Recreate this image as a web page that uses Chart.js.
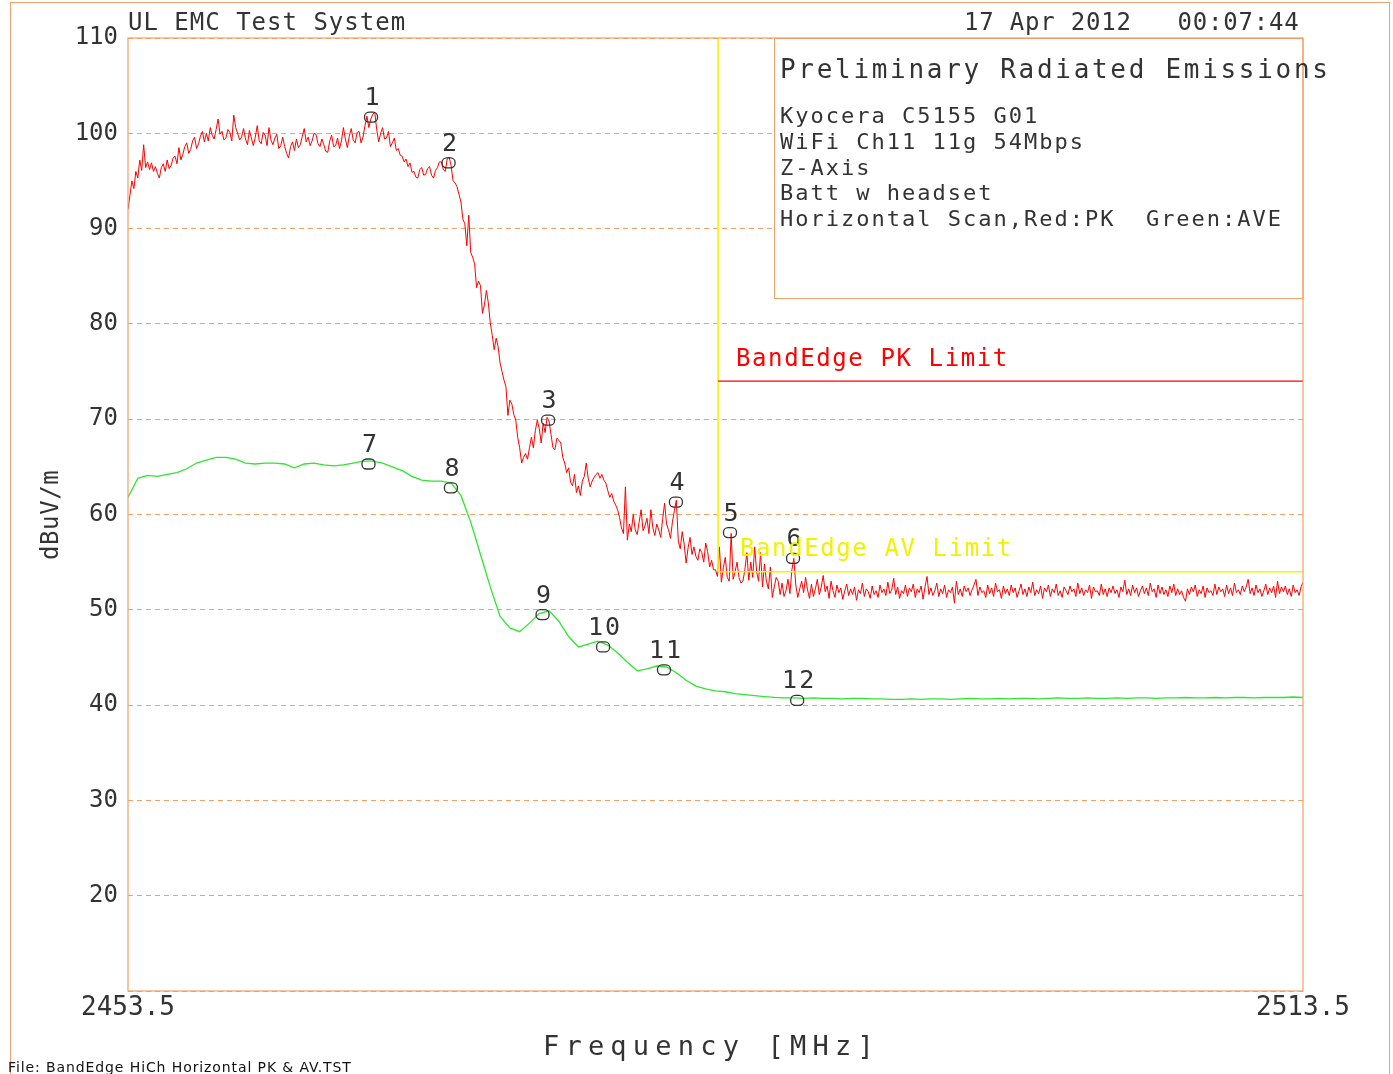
<!DOCTYPE html>
<html>
<head>
<meta charset="utf-8">
<title>BandEdge HiCh Horizontal PK &amp; AV</title>
<script src="https://cdn.jsdelivr.net/npm/chart.js@4/dist/chart.umd.min.js"></script>
<style>
  html, body { margin: 0; padding: 0; background: #fff; }
  canvas { display: block; }
</style>
</head>
<body>
<canvas id="plot" width="1393" height="1074"></canvas>
<script>
// sweep span in MHz
var sweepStart = 2453.5;
var sweepStop = 2513.5;

// peak trace (red), one reading every 0.1 MHz, one row per MHz
var pkLevels = [
  92.0, 93.5, 95.0, 94.2, 96.0, 95.3, 97.2, 96.1, 98.8, 96.4,
  97.0, 96.2, 96.9, 96.0, 96.5, 95.8, 95.3, 96.4, 96.8, 96.0,
  97.2, 96.3, 96.6, 97.4, 97.6, 96.8, 98.5, 97.2, 97.8, 98.6,
  99.0, 97.9, 98.3, 99.2, 99.6, 98.4, 98.9, 99.7, 100.2, 99.1,
  100.0, 99.2, 100.6, 99.8, 99.4, 100.4, 101.5, 99.9, 100.2, 99.3,
  99.5, 100.4, 100.1, 99.2, 101.9, 100.6, 100.0, 99.3, 99.6, 100.5,
  99.4, 98.8, 100.3, 99.5, 98.7, 99.6, 100.8, 99.2, 98.9, 100.1,
  99.8, 98.7, 100.6, 99.3, 98.8, 99.5, 99.9, 98.4, 98.7, 99.6,
  98.6, 97.9, 97.4, 98.6, 99.1, 98.2, 99.4, 98.5, 98.8, 99.7,
  100.5, 99.1, 99.6, 98.7, 99.2, 100.0, 99.9, 98.9, 98.6, 99.4,
  98.8, 98.1, 98.0, 99.2, 99.8, 98.6, 98.7, 99.5, 98.4, 99.2,
  100.6, 99.4, 98.5, 99.7, 100.5, 99.3, 99.0, 100.1, 100.2, 99.0,
  99.6, 100.8, 101.8, 100.6, 101.5, 102.0, 102.2, 100.4, 99.1, 100.0,
  100.6, 99.4, 99.5, 100.2, 98.6, 99.0, 99.5, 98.2, 98.4, 97.7,
  97.6, 97.0, 97.3, 96.5, 96.9, 95.9, 96.0, 95.4, 95.3, 96.2,
  96.4, 95.6, 95.7, 96.3, 96.5, 95.6, 95.3, 96.1, 96.4, 97.0,
  97.0, 96.2, 96.0, 97.3, 97.5, 96.6, 95.0, 94.8, 94.4, 93.6,
  92.8, 91.0, 90.5, 88.2, 91.4, 87.5, 87.0, 86.3, 83.8, 84.5,
  84.0, 81.1, 82.0, 83.5, 82.2, 80.1, 78.8, 77.3, 78.5, 77.6,
  75.9, 75.0, 74.1, 73.4, 70.4, 72.0, 71.6, 70.5, 69.9, 68.1,
  67.0, 65.4, 66.0, 66.4, 65.8, 67.0, 68.1, 67.0, 68.8, 69.9,
  69.0, 67.5, 69.6, 68.6, 70.2, 69.8, 68.4, 67.0, 66.8, 68.0,
  67.8, 67.5, 66.0, 65.4, 64.4, 64.9, 63.4, 63.0, 64.2, 62.3,
  63.0, 62.0, 63.5, 64.0, 65.4, 63.8, 62.9, 63.5, 63.9, 64.2,
  64.4, 63.8, 64.2, 63.6, 63.3, 62.5, 61.8, 62.2, 61.4, 61.0,
  60.5, 59.7, 58.6, 58.0, 62.9, 57.3, 59.0, 58.2, 60.0, 58.4,
  57.9, 59.2, 60.5, 58.3, 58.8, 59.6, 58.0, 60.5, 58.6, 57.8,
  59.0, 58.4, 57.6, 59.5, 61.2, 59.0, 58.4, 57.5, 59.2, 60.4,
  61.5, 57.2, 56.4, 58.2, 56.9, 54.9, 56.5, 57.6, 55.8, 56.6,
  55.6, 55.2, 56.4, 56.0, 55.0, 57.0, 56.1, 54.5, 55.2, 54.2,
  54.2, 53.5, 56.6, 52.9, 54.4, 55.5, 53.4, 53.0, 58.0, 53.2,
  54.0, 55.0, 53.4, 52.8, 53.0, 54.2, 56.0, 53.1, 55.0, 53.4,
  56.6, 54.0, 53.0, 56.0, 52.4, 54.8, 53.0, 52.2, 54.5, 51.3,
  52.4, 53.4, 53.0, 51.6, 52.8, 51.4, 52.0, 53.2, 51.7, 54.2,
  55.4, 52.6, 51.3, 52.2, 53.0, 51.8, 53.4, 52.1, 51.2, 52.7,
  51.4, 52.2, 53.2, 51.6, 52.4, 53.6, 51.9, 52.5, 51.2, 53.0,
  52.0, 51.3, 52.6, 51.8, 52.3, 51.1, 52.0, 52.7, 51.5, 52.2,
  51.6, 52.4, 51.0, 52.1, 51.7, 52.8, 51.4, 52.2, 51.9, 51.2,
  52.5, 51.6, 52.0, 51.3, 52.6, 51.8, 52.2, 51.5, 52.9, 51.7,
  52.1, 53.3, 51.6, 52.4, 51.2, 52.0, 51.7, 52.6, 51.4, 52.3,
  51.9, 52.7, 51.3, 52.2, 51.8, 52.5, 51.1, 52.4, 53.5, 51.6,
  52.3, 51.5, 52.0, 52.8, 51.4, 52.2, 51.7, 52.6, 51.3, 52.1,
  51.8, 52.4, 50.7, 53.0, 51.6, 52.2, 51.4, 52.5, 51.9, 52.3,
  51.5, 52.1, 52.6, 53.2, 51.5, 52.4, 51.8, 52.0, 51.3, 52.6,
  51.7, 52.3, 51.4, 52.8, 51.9, 52.1, 51.2, 52.5, 51.7, 52.2,
  51.5, 52.6, 51.8, 52.3, 51.3, 52.0, 52.7, 51.6, 52.2, 51.4,
  52.4, 51.8, 52.9, 51.5, 52.1, 51.7, 52.5, 51.2, 52.3, 51.9,
  52.6, 51.4, 52.2, 51.8, 52.7, 51.5, 52.0, 51.3, 52.4, 52.0,
  51.6, 52.5, 51.9, 52.2, 51.4, 52.8, 51.7, 52.3, 51.5, 52.1,
  51.8, 52.6, 51.2, 52.4, 51.9, 52.0, 51.5, 52.7, 51.6, 52.2,
  51.4, 52.3, 51.8, 52.5, 51.7, 52.1, 51.3, 52.4, 51.9, 53.1,
  51.6, 52.2, 51.5, 52.6, 51.8, 52.3, 51.4, 52.0, 52.5, 51.7,
  52.3, 51.5, 52.8, 51.9, 52.2, 51.3, 52.6, 51.7, 52.4, 51.6,
  52.1, 51.4, 52.5, 51.8, 52.7, 51.5, 52.2, 51.6, 52.0, 51.3,
  50.9, 52.2, 51.6, 52.4, 51.9, 52.6, 51.4, 52.1, 51.7, 52.5,
  51.3, 52.3, 51.8, 52.0, 51.5, 52.7, 51.6, 52.4, 51.9, 52.2,
  51.4, 52.6, 51.7, 52.3, 51.5, 52.8, 51.8, 52.1, 51.6, 52.5,
  51.9, 52.4, 53.2, 51.7, 52.3, 51.5, 52.6, 51.8, 52.2, 51.4,
  52.0, 52.7, 51.6, 52.3, 51.8, 52.5, 51.3, 53.0, 51.7, 52.4,
  51.9, 52.5, 51.6, 52.2, 51.4, 52.6, 51.8, 52.1, 51.5, 52.4,
  52.9
];

// average trace (green), one reading every 0.5 MHz
var avLevels = [
  61.8, 63.8, 64.1, 64.0, 64.2, 64.4, 64.8, 65.4, 65.7, 66.0,
  66.0, 65.8, 65.4, 65.3, 65.4, 65.4, 65.3, 64.9, 65.3, 65.4,
  65.2, 65.1, 65.2, 65.4, 65.6, 65.6, 65.4, 65.0, 64.6, 64.0,
  63.6, 63.5, 63.5, 63.3, 62.0, 59.2, 55.8, 52.4, 49.3, 48.1,
  47.7, 48.6, 49.6, 49.9, 48.8, 47.2, 46.1, 46.4, 46.7, 46.3,
  45.5, 44.5, 43.6, 43.8, 44.1, 44.0, 43.4, 42.6, 42.0, 41.7,
  41.5, 41.4, 41.2, 41.1, 41.0, 40.9, 40.8, 40.75, 40.75, 40.7,
  40.75, 40.7, 40.7, 40.65, 40.7, 40.7, 40.65, 40.65, 40.6, 40.6,
  40.65, 40.6, 40.65, 40.65, 40.6, 40.65, 40.7, 40.65, 40.65, 40.7,
  40.65, 40.7, 40.7, 40.65, 40.7, 40.75, 40.7, 40.7, 40.75, 40.7,
  40.7, 40.75, 40.7, 40.75, 40.75, 40.7, 40.75, 40.75, 40.8, 40.75,
  40.75, 40.8, 40.75, 40.8, 40.8, 40.75, 40.8, 40.8, 40.8, 40.85,
  40.8
];

// limits (lines start where the plotter drew the band edge)
var limitStartFreq = 2483.63;
var pkLimit = 74;
var avLimit = 54;

// markers
var markerNames  = ['1', '2', '3', '4', '5', '6', '7', '8', '9', '10', '11', '12'];
var markerFreqs  = [2465.91, 2469.87, 2474.95, 2481.48, 2484.24, 2487.46, 2465.78, 2469.99, 2474.67, 2477.76, 2480.87, 2487.67];
var markerLevels = [101.7, 96.9, 69.9, 61.3, 58.1, 55.4, 65.3, 62.8, 49.5, 46.1, 43.7, 40.5];

// axes
var yMin = 10;
var yMax = 110;
var xTicks = [2453.5, 2513.5];

var orange = '#f0a068';
var ink = '#333';
var mono = '"DejaVu Sans Mono", "Liberation Mono", monospace';

function sweep(levels) {
  var step = (sweepStop - sweepStart) / (levels.length - 1);
  return levels.map(function (v, i) { return { x: sweepStart + i * step, y: v }; });
}

function text(ctx, str, x, y, size, color, spacing, align) {
  ctx.font = size + 'px ' + mono;
  ctx.fillStyle = color;
  ctx.letterSpacing = (spacing || 0) + 'px';
  ctx.textAlign = align || 'left';
  ctx.textBaseline = 'alphabetic';
  ctx.fillText(str, x, y);
}

function capsule(ctx, cx, cy) {
  var w = 13, h = 10, r = 4.5;
  ctx.beginPath();
  ctx.roundRect(cx - w / 2, cy - h / 2, w, h, r);
  ctx.stroke();
}

var decor = {
  id: 'decor',
  beforeDraw: function (chart) {
    var ctx = chart.ctx;
    ctx.save();
    ctx.fillStyle = '#fff';
    ctx.fillRect(0, 0, chart.width, chart.height);
    ctx.strokeStyle = orange;
    ctx.lineWidth = 1;
    ctx.strokeRect(10.5, 2.5, 1379, 1100);
    ctx.restore();
  },
  beforeDatasetsDraw: function (chart) {
    var ctx = chart.ctx;
    var a = chart.chartArea;
    ctx.save();
    // info box
    ctx.fillStyle = '#fff';
    ctx.fillRect(774.5, a.top, a.right - 774.5, 298 - a.top);
    ctx.strokeStyle = orange;
    ctx.lineWidth = 1;
    ctx.strokeRect(774.5, a.top + 0.5, a.right - 774.5, 298 - a.top);
    ctx.restore();
  },
  afterDatasetsDraw: function (chart) {
    var ctx = chart.ctx;
    var a = chart.chartArea;
    var xs = chart.scales.x, ys = chart.scales.y;
    ctx.save();
    ctx.strokeStyle = orange;
    ctx.lineWidth = 1.2;
    ctx.strokeRect(a.left, a.top, a.right - a.left, a.bottom - a.top);

    // markers
    ctx.strokeStyle = '#333';
    ctx.lineWidth = 1.3;
    for (var i = 0; i < markerNames.length; i++) {
      var px = xs.getPixelForValue(markerFreqs[i]);
      var py = ys.getPixelForValue(markerLevels[i]);
      capsule(ctx, px, py);
      text(ctx, markerNames[i], px + 2, py - 12, 25, '#333', 2, 'center');
    }

    // header
    text(ctx, 'UL EMC Test System', 128, 30, 24, ink, 1);
    text(ctx, '17 Apr 2012   00:07:44', 964, 30, 24, ink, 0.8);

    // info box text
    text(ctx, 'Preliminary Radiated Emissions', 780, 78, 26, ink, 2.7);
    var lines = ['Kyocera C5155 G01', 'WiFi Ch11 11g 54Mbps', 'Z-Axis', 'Batt w headset', 'Horizontal Scan,Red:PK  Green:AVE'];
    for (var j = 0; j < lines.length; j++) {
      text(ctx, lines[j], 780, 123 + j * 25.8, 22, ink, 2.0);
    }

    // limit captions
    text(ctx, 'BandEdge PK Limit', 736, 366, 24, '#ff0000', 1.6);
    text(ctx, 'BandEdge AV Limit', 740, 556, 24, '#f2f200', 1.6);

    // axis titles
    text(ctx, 'Frequency [MHz]', 543, 1055, 27, ink, 6.2);
    ctx.save();
    ctx.translate(58, 560);
    ctx.rotate(-Math.PI / 2);
    text(ctx, 'dBuV/m', 0, 0, 24, ink, 0.6);
    ctx.restore();

    ctx.font = '14px "DejaVu Sans", sans-serif';
    ctx.letterSpacing = '0.9px';
    ctx.fillStyle = '#111';
    ctx.textAlign = 'left';
    ctx.fillText('File: BandEdge HiCh Horizontal PK & AV.TST', 8, 1072);
    ctx.restore();
  }
};

new Chart(document.getElementById('plot').getContext('2d'), {
  type: 'line',
  data: {
    datasets: [{
      label: 'PK limit',
      data: [{ x: limitStartFreq, y: pkLimit }, { x: sweepStop, y: pkLimit }],
      borderColor: '#ff0000',
      borderWidth: 1.2
    }, {
      label: 'AV limit',
      data: [{ x: limitStartFreq, y: yMax }, { x: limitStartFreq, y: avLimit }, { x: sweepStop, y: avLimit }],
      borderColor: '#f5f500',
      borderWidth: 1.6
    }, {
      label: 'PK',
      data: sweep(pkLevels),
      borderColor: '#ff0000',
      borderWidth: 1
    }, {
      label: 'AVE',
      data: sweep(avLevels),
      borderColor: '#2ee62e',
      borderWidth: 1.3
    }]
  },
  options: {
    responsive: false,
    animation: false,
    devicePixelRatio: 1,
    layout: { padding: { top: 38, right: 90, bottom: 0, left: 0 } },
    elements: {
      point: { radius: 0 },
      line: { tension: 0, fill: false }
    },
    plugins: {
      legend: { display: false },
      tooltip: { enabled: false }
    },
    scales: {
      x: {
        type: 'linear',
        min: sweepStart,
        max: sweepStop,
        afterBuildTicks: function (s) { s.ticks = xTicks.map(function (v) { return { value: v }; }); },
        afterFit: function (s) { s.height = 83; },
        grid: { display: false, drawTicks: false },
        border: { display: false },
        ticks: {
          padding: 2,
          color: ink,
          maxRotation: 0,
          font: { family: mono, size: 26 },
          callback: function (v) { return Number(v).toFixed(1); }
        }
      },
      y: {
        type: 'linear',
        min: yMin,
        max: yMax,
        afterFit: function (s) { s.width = 128; },
        grid: { color: orange, lineWidth: 1, drawTicks: false },
        border: { display: false, dash: [5, 4] },
        ticks: {
          stepSize: 10,
          padding: 10,
          color: ink,
          font: { family: mono, size: 24 },
          callback: function (v) { return v === yMin ? '' : String(v); }
        }
      }
    }
  },
  plugins: [decor]
});
</script>
</body>
</html>
